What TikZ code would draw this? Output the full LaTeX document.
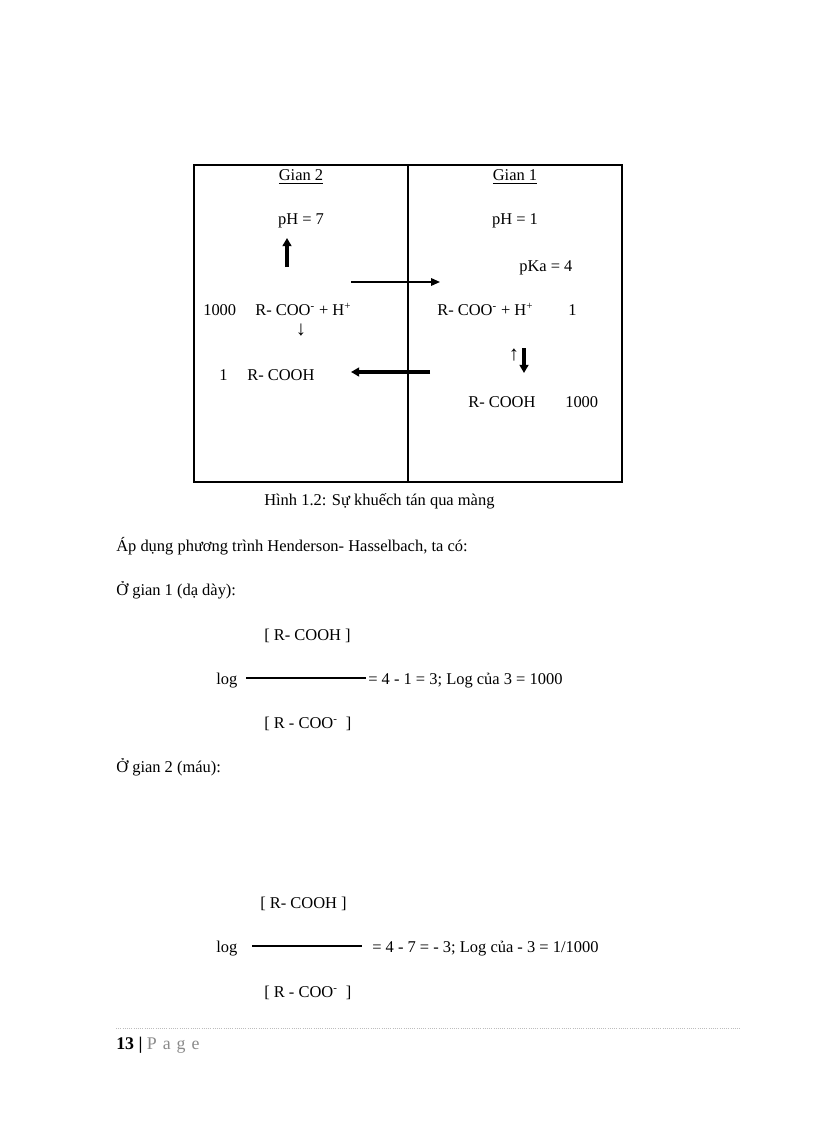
\documentclass[tikz,border=0pt]{standalone}
\usepackage{fontspec}
\setmainfont{Liberation Serif}
\usepackage{xcolor}
\usetikzlibrary{arrows.meta}
\definecolor{ink}{HTML}{000000}
\definecolor{pagegray}{HTML}{8A8A8A}
\definecolor{rulegray}{HTML}{BDBDBD}
\newcommand{\rcoo}{R- COO\textsuperscript{-} + H\textsuperscript{+}}
\tikzset{
  txt/.style={inner sep=0pt,anchor=base west,font=\fontsize{12}{14}\selectfont,text=ink},
  ctxt/.style={txt,anchor=base},
  glyph/.style={ctxt,font=\fontsize{15}{16}\selectfont},
  frame/.style={draw=ink,line width=0.9pt,minimum width=312pt,minimum height=231pt,inner sep=0pt},
  membrane/.style={draw=ink,line width=1.8pt},
  thinarr/.style={draw=ink,line width=1.1pt,-{Triangle[length=6.5pt,width=5.5pt]}},
  thickarr/.style={draw=ink,line width=2.2pt,-{Triangle[length=6pt,width=6.5pt]}},
  fracline/.style={draw=ink,line width=0.8pt},
}
\begin{document}
\begin{tikzpicture}[x=0.729pt,y=-0.729pt]
  \useasboundingbox (0,0) rectangle (816,1123);
  % two compartments and the membrane
  \node[frame] (box) at (408,323.5) {};
  \draw[membrane] (box.north) -- (box.south);
  \node[ctxt] (g2) at (301,181) {\underline{Gian 2}};
  \node[ctxt] (g1) at (515,181) {\underline{Gian 1}};
  \node[ctxt] (ph7) at (301,225) {pH = 7};
  \node[ctxt] (ph1) at (515,225) {pH = 1};
  \node[txt] (pka) at (519,271) {pKa = 4};
  \node[txt] (n2a) at (203,315) {1000};
  \node[txt] (ion2) at (255,315) {\rcoo};
  \node[glyph] (dn2) at (301,335) {↓};
  \node[txt] (n2b) at (219,380) {1};
  \node[txt] (acid2) at (247,380) {R- COOH};
  \node[txt] (ion1) at (437,315) {\rcoo};
  \node[txt] (n1a) at (568,315) {1};
  \node[glyph] (up1) at (514,360) {↑};
  \node[txt] (acid1) at (468,407) {R- COOH};
  \node[txt] (n1b) at (565,407) {1000};
  % arrows
  \coordinate (upfrom) at (287,267); \coordinate (upto) at (287,238);
  \coordinate (rfrom) at (351,282);  \coordinate (rto) at (440,282);
  \coordinate (lfrom) at (430,372);  \coordinate (lto) at (351,372);
  \coordinate (dfrom) at (524,348);  \coordinate (dto) at (524,373);
  \draw[thickarr] (upfrom) -- (upto);
  \draw[thinarr] (rfrom) -- (rto);
  \draw[thickarr] (lfrom) -- (lto);
  \draw[thickarr] (dfrom) -- (dto);
  % text of the page
  \node[txt] (cap) at (264,505) {Hình 1.2: Sự khuếch tán qua màng};
  \node[txt] (intro) at (116,551) {Áp dụng phương trình Henderson- Hasselbach, ta có:};
  \node[txt] (st1) at (116,595) {Ở gian 1 (dạ dày):};
  \node[txt] (num1) at (264,640) {[ R- COOH ]};
  \node[txt] (log1) at (216,684) {log};
  \coordinate (f1a) at (246,678); \coordinate (f1b) at (366,678);
  \draw[fracline] (f1a) -- (f1b);
  \node[txt] (eq1) at (368,684) {= 4 - 1 = 3; Log của 3 = 1000};
  \node[txt] (den1) at (264,728) {[ R - COO\textsuperscript{-}\ \ ]};
  \node[txt] (st2) at (116,772) {Ở gian 2 (máu):};
  \node[txt] (num2) at (260,908) {[ R- COOH ]};
  \node[txt] (log2) at (216,952) {log};
  \coordinate (f2a) at (252,946); \coordinate (f2b) at (362,946);
  \draw[fracline] (f2a) -- (f2b);
  \node[txt] (eq2) at (372,952) {= 4 - 7 = - 3; Log của - 3 = 1/1000};
  \node[txt] (den2) at (264,997) {[ R - COO\textsuperscript{-}\ \ ]};
  % footer
  \coordinate (rulel) at (116,1028); \coordinate (ruler) at (740,1028);
  \draw[rulegray,line width=0.6pt,densely dotted] (rulel) -- (ruler);
  \node[txt,font=\fontsize{13}{15}\selectfont] (pg) at (116,1049) {\textbf{13 |} {\color{pagegray}P\,\,a\,\,g\,\,e}};
\end{tikzpicture}
\end{document}
